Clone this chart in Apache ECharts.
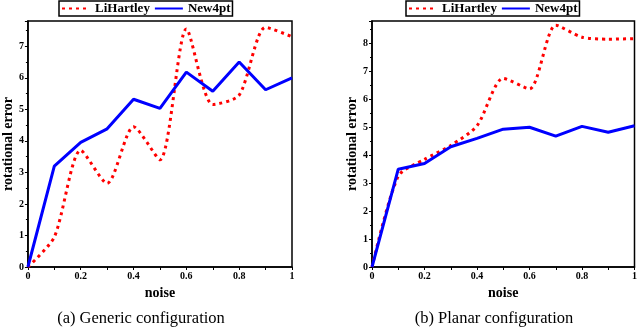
<!DOCTYPE html>
<html>
<head>
<meta charset="utf-8">
<script src="https://cdn.jsdelivr.net/npm/echarts@6/dist/echarts.min.js"></script>
<style>
html,body{margin:0;padding:0;background:#fff;}
#c{width:640px;height:327px;}
</style>
</head>
<body>
<div id="c"></div>
<script>
const noise = [0, 0.1, 0.2, 0.3, 0.4, 0.5, 0.6, 0.7, 0.8, 0.9, 1.0];
const genericLiHartley = [0, 0.95, 3.7, 2.65, 4.45, 3.4, 7.55, 5.15, 5.45, 7.6, 7.3];
const genericNew4pt = [0, 3.2, 3.95, 4.38, 5.32, 5.03, 6.18, 5.57, 6.5, 5.62, 6.0];
const planarLiHartley = [0, 3.25, 3.85, 4.35, 5.05, 6.75, 6.37, 8.65, 8.22, 8.15, 8.17];
const planarNew4pt = [0, 3.5, 3.7, 4.3, 4.6, 4.93, 5.0, 4.68, 5.03, 4.82, 5.05];
const seriesNames = ['LiHartley', 'New4pt'];
const captions = ['(a) Generic configuration', '(b) Planar configuration'];
const xName = 'noise';
const yName = 'rotational error';

const pairs = (xs, ys) => xs.map((x, i) => [x, ys[i]]);
const serif = '"Liberation Serif", "DejaVu Serif", serif';

function xAxis(gi) {
  return {
    type: 'value', gridIndex: gi, min: 0, max: 1, interval: 0.2,
    name: xName, nameLocation: 'middle', nameGap: 14,
    nameTextStyle: {fontFamily: serif, fontWeight: 'bold', fontSize: 14, color: '#000'},
    axisLine: {show: true, onZero: false, lineStyle: {color: '#000', width: 1.5}},
    axisTick: {show: true, length: 3, lineStyle: {color: '#000'}},
    minorTick: {show: true, splitNumber: 2, length: 3, lineStyle: {color: '#000'}},
    splitLine: {show: false},
    axisLabel: {fontFamily: serif, fontWeight: 'bold', fontSize: 10, color: '#000', margin: 4}
  };
}
function yAxis(gi, max) {
  return {
    type: 'value', gridIndex: gi, min: 0, max: max, interval: 1,
    name: yName, nameLocation: 'middle', nameGap: 12, nameRotate: 90,
    nameTextStyle: {fontFamily: serif, fontWeight: 'bold', fontSize: 14, color: '#000'},
    axisLine: {show: true, onZero: false, lineStyle: {color: '#000', width: 1.5}},
    axisTick: {show: true, length: 3, lineStyle: {color: '#000'}},
    minorTick: {show: true, splitNumber: 2, length: 2, lineStyle: {color: '#000'}},
    splitLine: {show: false},
    axisLabel: {fontFamily: serif, fontWeight: 'bold', fontSize: 10, color: '#000', margin: 4, showMaxLabel: false}
  };
}
const redStyle = {color: '#ff0000', width: 3, type: [3, 4], cap: 'butt'};
const blueStyle = {color: '#0000ff', width: 3};
function redSeries(xi, data) {
  return {name: seriesNames[0], type: 'line', xAxisIndex: xi, yAxisIndex: xi, data: pairs(noise, data),
    showSymbol: false, symbol: 'none', smooth: 0.25, lineStyle: redStyle, itemStyle: {color: '#ff0000'}, z: 2};
}
function blueSeries(xi, data) {
  return {name: seriesNames[1], type: 'line', xAxisIndex: xi, yAxisIndex: xi, data: pairs(noise, data),
    showSymbol: false, symbol: 'none', lineStyle: blueStyle, itemStyle: {color: '#0000ff'}, z: 3};
}
function legend(left) {
  return {
    left: left, top: 1, orient: 'horizontal', itemWidth: 28, itemHeight: 12, itemGap: 4,
    padding: [1, 2, 1, 2], borderColor: '#000', borderWidth: 1.5, backgroundColor: '#fff',
    data: seriesNames,
    itemStyle: {opacity: 0},
    textStyle: {fontFamily: serif, fontWeight: 'bold', fontSize: 13, color: '#000'}
  };
}

const chart = echarts.init(document.getElementById('c'), null, {renderer: 'canvas'});
chart.setOption({
  animation: false,
  backgroundColor: '#fff',
  title: [
    {text: captions[0], left: 141, top: 310, textAlign: 'center', padding: 0,
      textStyle: {fontFamily: serif, fontWeight: 'normal', fontSize: 16.5, color: '#000'}},
    {text: captions[1], left: 494, top: 310, textAlign: 'center', padding: 0,
      textStyle: {fontFamily: serif, fontWeight: 'normal', fontSize: 16.5, color: '#000'}}
  ],
  legend: [legend(59), legend(406)],
  grid: [
    {left: 25, top: 21, width: 267, height: 246, show: true, borderColor: '#000', borderWidth: 1.5, backgroundColor: 'transparent'},
    {left: 372, top: 21, width: 265, height: 246, show: true, borderColor: '#000', borderWidth: 1.5, backgroundColor: 'transparent'}
  ],
  xAxis: [xAxis(0), xAxis(1)],
  yAxis: [yAxis(0, 7.8), yAxis(1, 8.8)],
  series: [
    redSeries(0, genericLiHartley), blueSeries(0, genericNew4pt),
    redSeries(1, planarLiHartley), blueSeries(1, planarNew4pt)
  ]
});
</script>
</body>
</html>
